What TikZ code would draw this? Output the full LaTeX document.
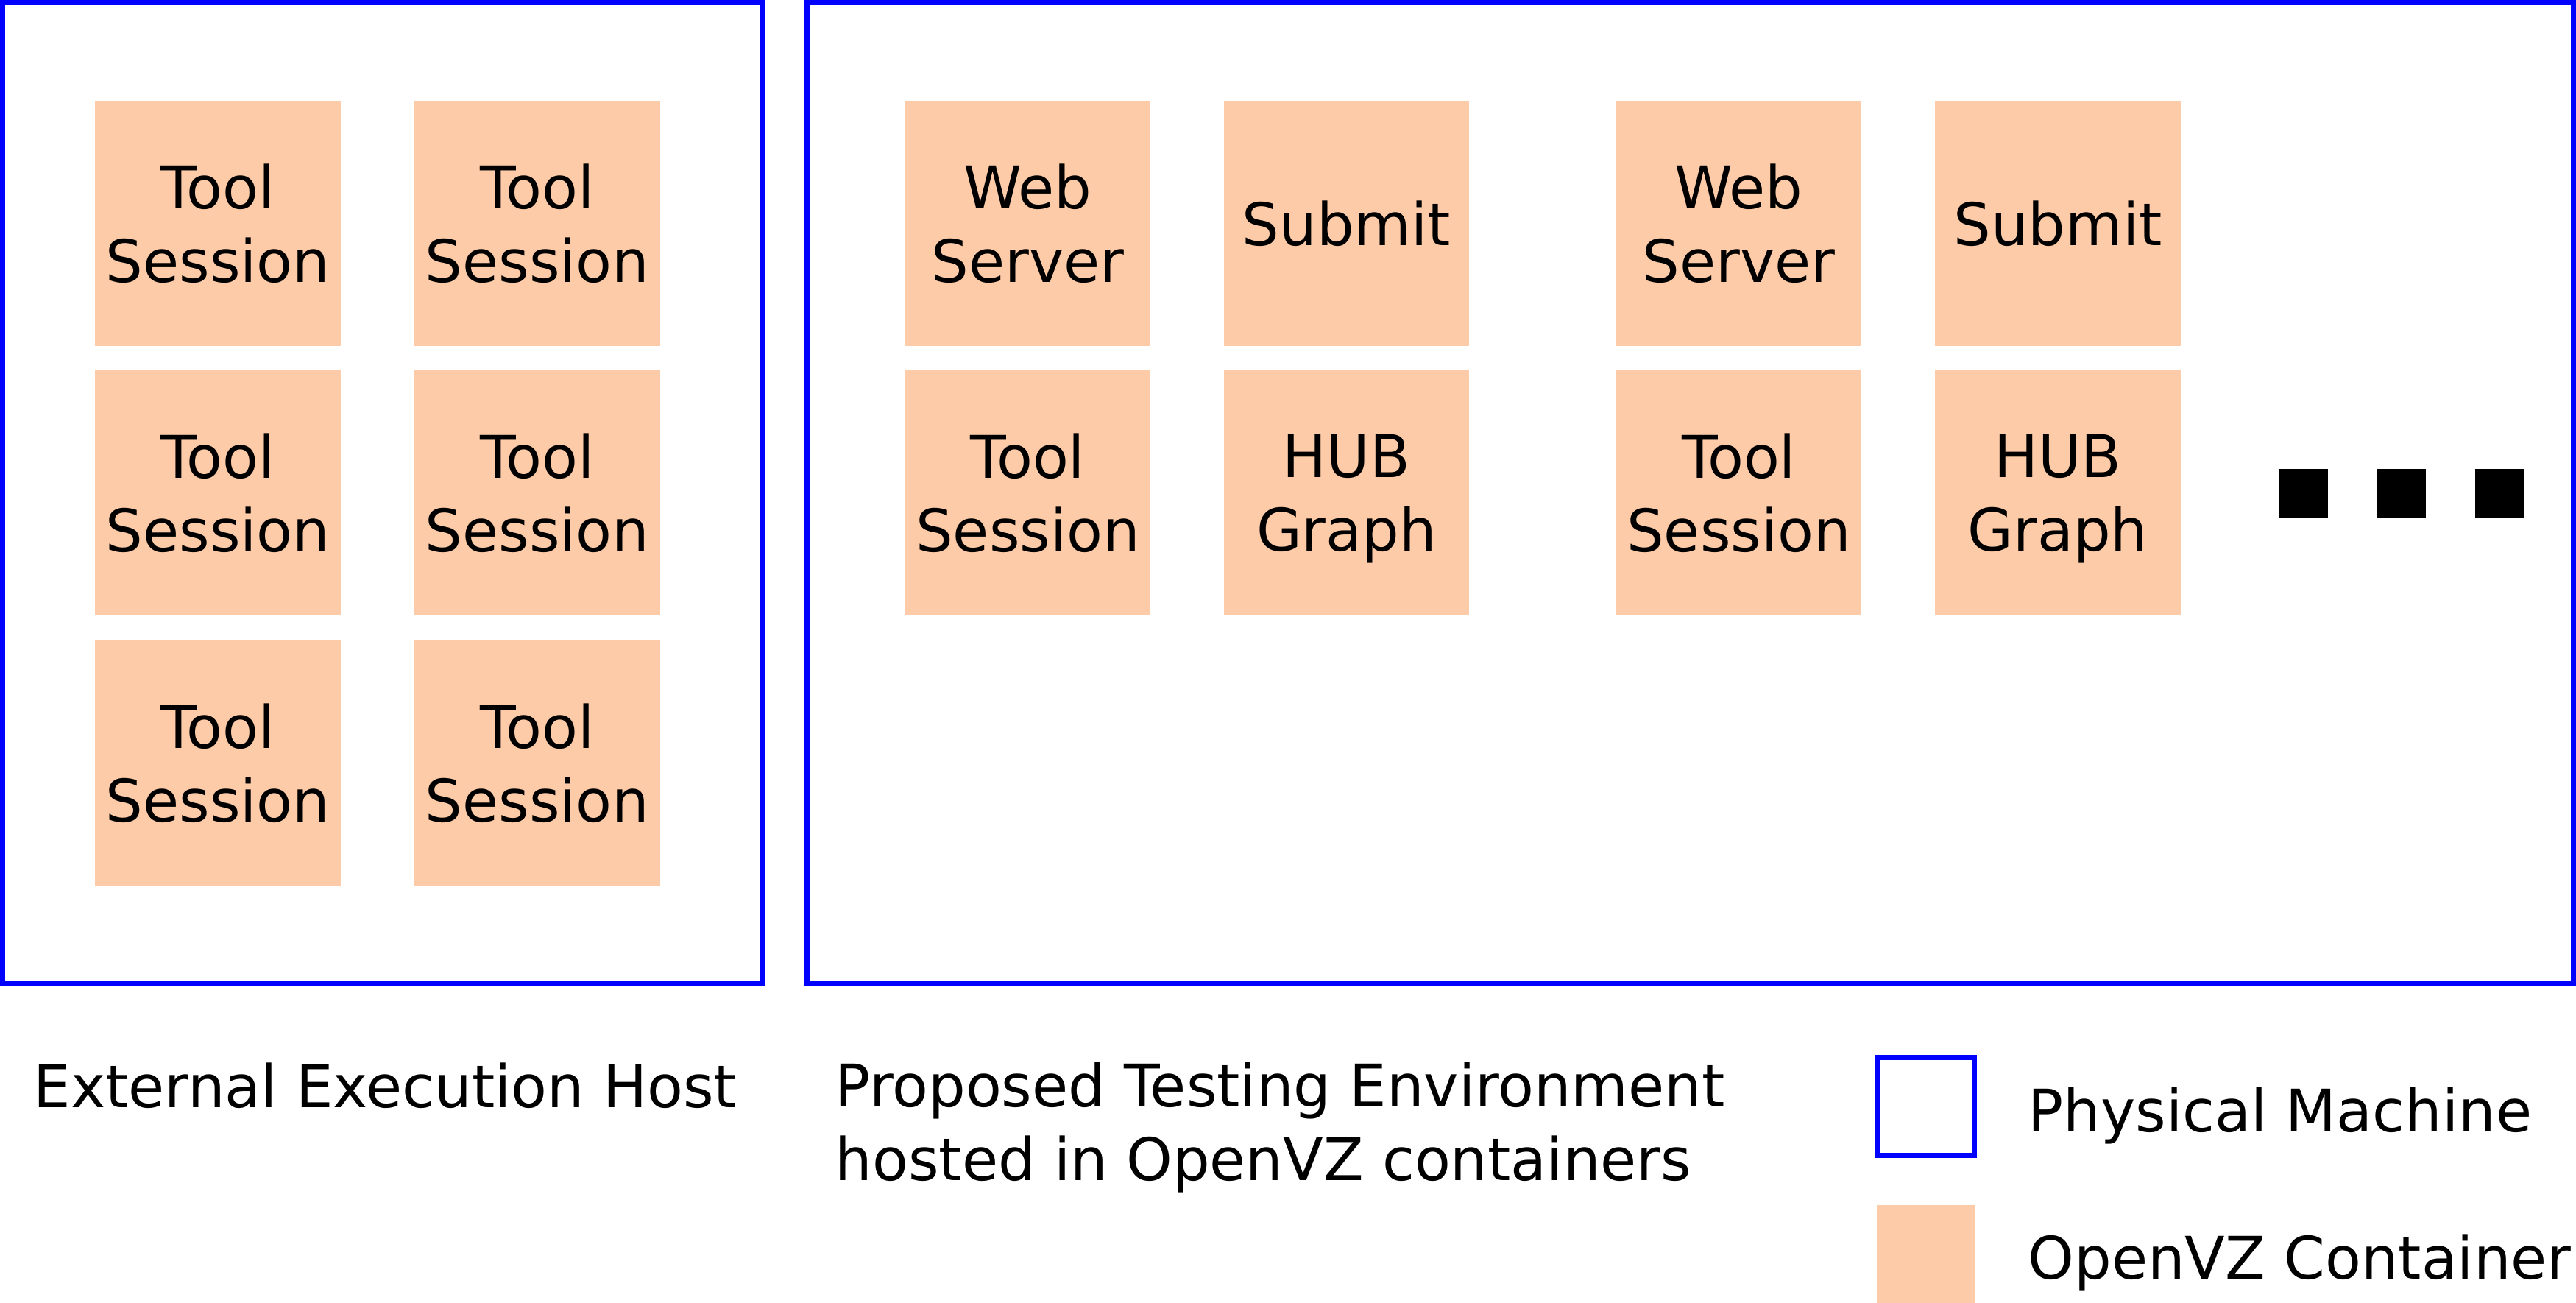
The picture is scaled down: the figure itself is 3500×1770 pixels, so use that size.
\documentclass[tikz,border=0pt]{standalone}
\usepackage{fontspec}
\setmainfont{DejaVu Sans}
\definecolor{vzorange}{RGB}{253,203,168}
\tikzset{
  machine/.style={draw=blue, line width=2pt},
  container/.style={fill=vzorange, minimum width=3.33cm, minimum height=3.33cm,
    inner sep=0pt, align=center, text depth=0pt,
    font=\fontsize{22.7}{28.4}\selectfont},
  label/.style={inner sep=0pt, align=left, font=\fontsize{22.7}{28.4}\selectfont},
}

\begin{document}
\begin{tikzpicture}[x=0.01cm, y=-0.01cm]
  \useasboundingbox (0,0) rectangle (3500,1770);
  % physical machines
  \draw [machine] (3.5,3.5) rectangle (1036.5,1336.5);
  \draw [machine] (1097,3.5) rectangle (3496.5,1336.5);
  % external execution host
  \foreach \r/\y in {1/303.5, 2/669.5, 3/1036}
  \foreach \c/\x in {1/296, 2/730}
  \node [container] (ts\r\c) at (\x,\y) {Tool\\Session};
  % testing environment
  \node [container] (web1) at (1396.5,303.5) {Web\\Server};
  \node [container] (sub1) at (1829.5,303.5) {Submit};
  \node [container] (tool1) at (1396.5,669.5) {Tool\\Session};
  \node [container] (hub1) at (1829.5,669.5) {HUB\\Graph};
  \node [container] (web2) at (2362.5,303.5) {Web\\Server};
  \node [container] (sub2) at (2796,303.5) {Submit};
  \node [container] (tool2) at (2362.5,669.5) {Tool\\Session};
  \node [container] (hub2) at (2796,669.5) {HUB\\Graph};
  \foreach \x in {3130,3263,3396}
  \fill (\x-33,637) rectangle (\x+33,703);
  % captions
  \node [label, anchor=base west] (hostlbl) at (45,1504) {External Execution Host};
  \node [label, anchor=base west] (envlbl) at (1134,1603)
    {Proposed Testing Environment\\hosted in OpenVZ containers};
  % legend
  \draw [machine] (2551.5,1436.5) rectangle (2682.5,1569.5);
  \node [label, anchor=base west] (pmlbl) at (2755,1537) {Physical Machine};
  \fill [vzorange] (2550,1637) rectangle (2683,1770);
  \node [label, anchor=base west] (vzlbl) at (2755,1737) {OpenVZ Container};
\end{tikzpicture}
\end{document}
